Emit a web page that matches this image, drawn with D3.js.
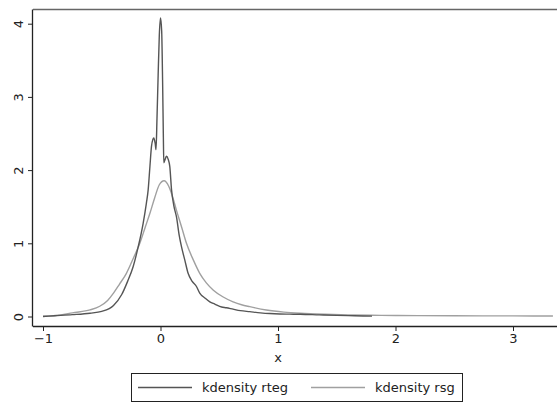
<!DOCTYPE html>
<html>
<head>
<meta charset="utf-8">
<script src="https://cdn.jsdelivr.net/npm/d3@7"></script>
<style>
  body { margin: 0; background: #fff; }
  text { font-family: "DejaVu Sans", sans-serif; fill: #222; }
</style>
</head>
<body>
<svg width="557" height="403"></svg>
<script>
// kdensity rteg (dark line)
var rtegX = [-1.0, -0.9, -0.75, -0.6, -0.5, -0.4, -0.33, -0.28, -0.233, -0.19, -0.148, -0.12, -0.105, -0.09, -0.077, -0.065, -0.057, -0.045, -0.038, -0.03, -0.02, -0.01, 0.0, 0.01, 0.018, 0.024, 0.028, 0.04, 0.051, 0.065, 0.079, 0.094, 0.115, 0.136, 0.16, 0.179, 0.207, 0.235, 0.27, 0.306, 0.334, 0.38, 0.42, 0.462, 0.52, 0.56, 0.618, 0.68, 0.76, 0.85, 0.93, 1.015, 1.1, 1.19, 1.35, 1.5, 1.65, 1.8];
var rtegY = [0.0, 0.01, 0.025, 0.045, 0.07, 0.15, 0.3, 0.48, 0.68, 0.95, 1.27, 1.55, 1.73, 2.05, 2.32, 2.42, 2.44, 2.36, 2.28, 2.7, 3.3, 3.85, 4.08, 3.9, 3.2, 2.5, 2.1, 2.15, 2.19, 2.15, 2.05, 1.73, 1.5, 1.36, 1.1, 0.95, 0.77, 0.59, 0.48, 0.41, 0.32, 0.25, 0.2, 0.17, 0.13, 0.12, 0.10, 0.08, 0.066, 0.05, 0.04, 0.034, 0.032, 0.03, 0.022, 0.015, 0.01, 0.005];

// kdensity rsg (light line)
var rsgX = [-1.0, -0.85, -0.75, -0.6, -0.517, -0.45, -0.4, -0.35, -0.29, -0.23, -0.176, -0.13, -0.09, -0.05, -0.01, 0.03, 0.07, 0.1, 0.136, 0.18, 0.221, 0.28, 0.334, 0.39, 0.45, 0.53, 0.618, 0.69, 0.76, 0.9, 1.05, 1.19, 1.4, 1.6, 1.8, 2.0, 2.5, 3.0, 3.34];
var rsgY = [0.005, 0.02, 0.05, 0.09, 0.14, 0.22, 0.32, 0.44, 0.59, 0.8, 1.0, 1.22, 1.41, 1.62, 1.8, 1.855, 1.78, 1.65, 1.45, 1.22, 1.0, 0.77, 0.59, 0.46, 0.36, 0.27, 0.2, 0.16, 0.134, 0.089, 0.06, 0.044, 0.03, 0.022, 0.017, 0.013, 0.01, 0.008, 0.007];

var xTicks = [-1, 0, 1, 2, 3];
var yTicks = [0, 1, 2, 3, 4];
var legendLabels = ["kdensity rteg", "kdensity rsg"];

var svg = d3.select("svg");
var colDark = "#555555", colLight = "#a0a0a0";

// scales
var scX = d3.scaleLinear().domain([-1, 3]).range([43, 513]);
var scY = d3.scaleLinear().domain([0, 4]).range([316.5, 23.7]);

// top border of plot region
svg.append("line")
    .attr("x1", 33).attr("x2", 557)
    .attr("y1", 9.5).attr("y2", 9.5)
    .attr("stroke", "#666").attr("stroke-width", 1.5);

// axes
var gx = svg.append("g").attr("transform", "translate(0,326)")
    .call(d3.axisBottom(scX).tickValues(xTicks).tickSize(5).tickPadding(3).tickFormat(d3.format("d")));
gx.select(".domain").attr("d", "M33,0.5H557");
var gy = svg.append("g").attr("transform", "translate(33,0)")
    .call(d3.axisLeft(scY).tickValues(yTicks).tickSize(5).tickFormat(d3.format("d")));
gy.select(".domain").attr("d", "M-0.5,9.5V326.5");
svg.selectAll(".domain").attr("stroke", "#222").attr("stroke-width", 1.3);
svg.selectAll(".tick line").attr("stroke", "#222");
gx.selectAll("text").attr("font-size", 13).style("font-family", "DejaVu Sans");
gy.selectAll("text")
    .attr("font-size", 13).style("font-family", "DejaVu Sans")
    .attr("text-anchor", "middle").attr("dy", null)
    .attr("x", null).attr("y", null)
    .attr("transform", "translate(-15,0) rotate(-90)")
    .attr("dominant-baseline", "central");

svg.append("text")
    .attr("x", scX(1)).attr("y", 362)
    .attr("text-anchor", "middle").attr("font-size", 13)
    .text("x");

// lines
var lineMaker = d3.line().curve(d3.curveMonotoneX)
    .x(d => scX(d[0])).y(d => scY(d[1]));
svg.append("path")
    .attr("fill", "none").attr("stroke", colLight).attr("stroke-width", 1.4)
    .attr("d", lineMaker(d3.zip(rsgX, rsgY)));
svg.append("path")
    .attr("fill", "none").attr("stroke", colDark).attr("stroke-width", 1.4)
    .attr("d", lineMaker(d3.zip(rtegX, rtegY)));

// legend
var leg = svg.append("g");
leg.append("rect")
    .attr("x", 131.5).attr("y", 373.5).attr("width", 331).attr("height", 28)
    .attr("fill", "#fff").attr("stroke", "#222").attr("stroke-width", 1);
var legItems = [{x: 138, col: colDark}, {x: 311, col: colLight}];
legItems.forEach(function(it, i){
    leg.append("line")
        .attr("x1", it.x).attr("x2", it.x + 54)
        .attr("y1", 387.5).attr("y2", 387.5)
        .attr("stroke", it.col).attr("stroke-width", 1.4);
    leg.append("text")
        .attr("x", it.x + 64).attr("y", 392)
        .attr("font-size", 13)
        .text(legendLabels[i]);
});
</script>
</body>
</html>
